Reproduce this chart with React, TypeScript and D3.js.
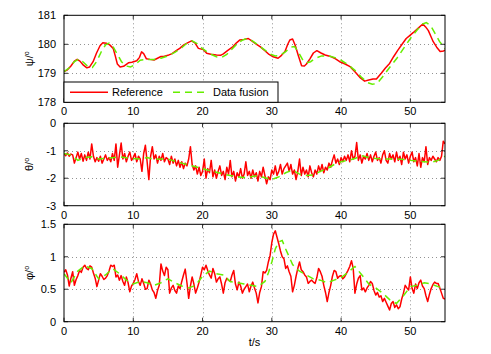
import React from 'react';
import * as d3 from 'd3';

// ---------- data ----------
const timeTicks = [0, 10, 20, 30, 40, 50];

const psiRefT = [0,0.5,1,1.5,1.9,2.3,2.8,3.3,3.7,4.2,4.7,5.2,5.6,6.1,6.6,7.1,7.4,7.7,8.1,8.6,9.3,9.8,10.5,10.9,11.2,11.5,11.9,12.4,13,13.5,14,14.4,15,15.6,16.2,16.7,17.3,17.9,18.4,18.9,19.4,20.1,20.6,21.2,22,22.6,23,23.6,24.4,24.9,25.4,26,26.6,27.2,27.8,28.3,29,29.6,30.2,30.9,31.4,31.9,32.3,32.6,33,33.4,33.8,34.3,34.7,35,35.5,36,36.5,37.1,37.7,38.6,39.2,39.8,40.5,41.3,42,42.7,43.4,44,44.6,45.1,45.8,46.4,47,47.6,48.2,48.8,49.4,49.9,50.4,51.1,51.8,52.2,52.6,53,53.3,53.8,54.3,54.8,55];
const psiRefV = [179.06,179.12,179.25,179.42,179.48,179.42,179.28,179.19,179.22,179.4,179.7,179.95,180.05,180.04,179.98,179.86,179.6,179.32,179.22,179.24,179.36,179.38,179.43,179.55,179.74,179.68,179.5,179.48,179.46,179.52,179.58,179.58,179.62,179.68,179.78,179.86,179.98,180.06,180.12,180.05,179.86,179.82,179.69,179.66,179.63,179.62,179.67,179.78,179.92,180.05,180.15,180.17,180.2,180.1,180,179.92,179.78,179.65,179.57,179.52,179.62,179.75,180,180.15,180.18,179.95,179.63,179.26,179.25,179.32,179.5,179.7,179.78,179.7,179.63,179.57,179.5,179.4,179.33,179.23,179.05,178.86,178.73,178.77,178.8,178.8,179,179.18,179.34,179.58,179.8,180,180.2,180.3,180.4,180.55,180.7,180.6,180.47,180.25,180.09,179.9,179.75,179.77,179.8];

const psiFusT = [0,0.8,1.5,2.2,2.8,3.5,4.1,4.7,5.4,6,6.5,7,7.6,8.3,9,9.6,10.3,11,12,13,14,15,16,17,17.8,18.5,19.2,20,21,22,22.7,23.5,24.3,25,25.8,26.5,27.2,28,29,29.8,30.5,31.2,32,32.7,33.3,33.9,34.5,35,35.6,36.3,37.2,38.2,39,40,41,42,43,43.8,44.5,45.2,46,47,48,49,50,51,51.8,52.3,52.9,53.5,54.2,55];
const psiFusV = [179.06,179.2,179.4,179.5,179.38,179.22,179.2,179.4,179.75,179.98,180.04,179.95,179.7,179.4,179.25,179.22,179.3,179.45,179.48,179.48,179.52,179.6,179.72,179.88,180.05,180.12,180.02,179.85,179.68,179.57,179.54,179.65,179.85,180.02,180.15,180.2,180.12,179.98,179.8,179.66,179.6,179.62,179.75,179.9,179.92,179.7,179.45,179.36,179.4,179.52,179.6,179.6,179.55,179.45,179.3,179.1,178.85,178.68,178.62,178.65,178.88,179.2,179.5,179.85,180.2,180.5,180.7,180.75,180.65,180.4,180.1,179.85];

// theta reference, sampled every 0.25 s from 0 to 55 s
const thetaRefV = [
  -1.10,-1.18,-1.08,-1.20, -1.12,-1.15,-1.45,-1.25, -1.05,-1.30,-1.10,-1.38, -1.15,-1.35,-1.05,-1.30,
  -0.75,-1.20,-1.40,-1.25, -1.38,-1.20,-1.45,-1.30, -1.15,-1.35,-1.25,-1.40, -1.10,-1.35,-0.75,-1.60,
  -1.15,-0.72,-1.30,-1.10, -1.40,-1.20,-1.05,-1.35, -1.25,-1.10,-1.40,-1.20, -1.30,-1.75,-1.10,-0.80,
  -1.40,-2.05,-1.20,-0.85, -1.30,-1.15,-1.45,-1.20, -1.35,-1.10,-1.40,-1.25, -1.30,-1.50,-1.20,-1.45,
  -1.30,-1.55,-1.35,-1.60, -1.40,-1.65,-1.45,-1.55, -1.30,-0.85,-1.50,-1.70, -1.55,-1.85,-1.60,-1.90,
  -1.75,-1.30,-2.00,-1.65, -1.80,-1.35,-1.95,-1.70, -2.00,-1.75,-1.55,-1.90, -1.75,-2.05,-1.60,-1.85,
  -1.35,-1.95,-1.75,-2.10, -1.80,-1.95,-1.65,-2.00, -1.85,-1.40,-1.90,-1.75, -2.00,-1.70,-1.95,-1.80,
  -2.10,-1.75,-1.95,-1.60, -1.90,-2.20,-1.95,-2.05, -1.70,-1.85,-1.55,-1.90, -1.75,-1.50,-1.85,-1.65,
  -1.55,-1.45,-1.75,-1.50, -1.85,-1.70,-2.05,-1.75, -1.30,-1.90,-1.60,-1.85, -1.70,-1.95,-1.55,-1.80,
  -1.95,-1.70,-1.85,-1.55, -1.75,-1.50,-1.80,-1.60, -1.70,-1.45,-1.60,-1.35, -1.15,-1.45,-1.30,-1.50,
  -1.25,-1.40,-1.20,-1.35, -1.15,-1.40,-1.00,-1.30, -1.20,-0.70,-1.35,-1.15, -1.45,-1.20,-1.30,-1.10,
  -1.35,-1.15,-1.40,-1.20, -1.05,-1.35,-1.25,-1.45, -1.15,-1.00,-1.35,-1.45, -1.10,-1.30,-1.15,-1.40,
  -1.05,-1.35,-1.20,-1.50, -1.05,-1.30,-1.15,-1.45, -1.20,-1.05,-1.40,-1.25, -1.55,-1.10,-1.60,-1.25,
  -1.40,-0.85,-1.50,-1.25, -1.35,-1.20,-1.30,-1.40, -1.25,-1.35,-1.20,-0.65, -0.75
];
// theta data fusion, every 1 s
const thetaFusV = [-1.10,-1.15,-1.35,-1.25,-1.22,-1.30,-1.28,-1.25,-1.22,-1.25,-1.28,-1.30,-1.25,-1.32,-1.30,-1.30,-1.38,-1.45,-1.52,-1.58,-1.65,-1.72,-1.78,-1.85,-1.90,-1.95,-1.97,-1.95,-1.90,-1.98,-2.05,-1.95,-1.80,-1.70,-1.85,-1.90,-1.88,-1.75,-1.65,-1.50,-1.40,-1.35,-1.28,-1.18,-1.25,-1.28,-1.30,-1.30,-1.30,-1.32,-1.35,-1.38,-1.40,-1.42,-1.35,-1.20];

// phi reference, sampled every 0.25 s
const phiRefV = [
  0.76,0.80,0.72,0.55, 0.67,0.77,0.56,0.65, 0.71,0.79,0.76,0.84, 0.87,0.82,0.80,0.86,
  0.84,0.75,0.67,0.54, 0.64,0.74,0.70,0.65, 0.67,0.71,0.78,0.87, 0.85,0.87,0.69,0.72,
  0.64,0.71,0.62,0.56, 0.69,0.60,0.46,0.55, 0.59,0.65,0.74,0.62, 0.56,0.66,0.59,0.50,
  0.51,0.64,0.58,0.49, 0.45,0.36,0.48,0.56, 0.89,0.78,0.71,0.84, 0.80,0.44,0.52,0.56,
  0.48,0.44,0.55,0.51, 0.62,0.72,0.81,0.60, 0.36,0.55,0.69,0.58, 0.44,0.52,0.61,0.72,
  0.84,0.80,0.87,0.79, 0.72,0.67,0.82,0.74, 0.61,0.66,0.69,0.58, 0.44,0.60,0.67,0.64,
  0.62,0.72,0.79,0.58, 0.49,0.61,0.55,0.44, 0.50,0.54,0.58,0.46, 0.55,0.61,0.52,0.44,
  0.29,0.45,0.54,0.77, 0.75,0.79,0.92,1.02, 1.22,1.35,1.40,1.30, 1.20,1.09,1.00,0.97,
  0.82,0.86,0.77,0.70, 0.46,0.56,0.70,0.82, 0.92,0.80,0.77,0.72, 0.69,0.59,0.62,0.64,
  0.61,0.59,0.68,0.82, 0.77,0.70,0.56,0.45, 0.31,0.45,0.56,0.70, 0.79,0.77,0.67,0.70,
  0.71,0.66,0.69,0.74, 0.79,0.85,0.94,0.82, 0.44,0.58,0.67,0.71, 0.49,0.52,0.46,0.52,
  0.56,0.62,0.59,0.48, 0.41,0.45,0.38,0.40, 0.31,0.36,0.30,0.24, 0.18,0.28,0.31,0.22,
  0.26,0.20,0.23,0.35, 0.44,0.56,0.52,0.49, 0.69,0.51,0.44,0.58, 0.51,0.60,0.64,0.55,
  0.51,0.40,0.31,0.42, 0.51,0.57,0.61,0.59, 0.59,0.52,0.44,0.36, 0.35
];
const phiFusT = [0,1,2,3,4,5,6,7,8,9,10,11,12,13,14,15,16,17,18,19,20,21,22,23,24,25,26,27,28,29,29.5,30,30.5,31,31.5,32,32.5,33,33.5,34,35,36,37,38,39,40,41,42,43,44,45,46,47,48,49,50,51,52,53,54,55];
const phiFusV = [0.74,0.60,0.78,0.86,0.82,0.66,0.72,0.82,0.74,0.64,0.58,0.62,0.60,0.56,0.60,0.66,0.60,0.55,0.52,0.56,0.70,0.78,0.74,0.72,0.62,0.60,0.58,0.56,0.54,0.62,0.75,0.92,1.12,1.23,1.25,1.12,1.00,0.88,0.82,0.78,0.72,0.66,0.64,0.60,0.64,0.68,0.76,0.85,0.72,0.58,0.52,0.44,0.34,0.28,0.40,0.54,0.56,0.60,0.58,0.54,0.52];

const legendLabels = ['Reference', 'Data fusion'];

// ---------- layout ----------
const W = 491, H = 354;
const X0 = 64, X1 = 445;
const RED = '#ff0000';
const GREEN = '#66ee00';
const FONT = 'Liberation Sans, Arial, Helvetica, sans-serif';

const x = d3.scaleLinear().domain([0, 55]).range([X0, X1]);

type Panel = {
  top: number; bottom: number; domain: [number, number]; ticks: number[];
  tickFmt: (v: number) => string; label: string;
  ref: [number, number][]; fus: [number, number][];
};

const zip = (t: number[], v: number[]) => t.map((tt, i) => [tt, v[i]] as [number, number]);
const stepped = (v: number[], dt: number) => v.map((vv, i) => [i * dt, vv] as [number, number]);

const panels: Panel[] = [
  { top: 15.3, bottom: 102.3, domain: [178, 181], ticks: [178, 179, 180, 181], tickFmt: d => String(d), label: 'ψ',
    ref: zip(psiRefT, psiRefV), fus: zip(psiFusT, psiFusV) },
  { top: 123.3, bottom: 205.7, domain: [-3, 0], ticks: [-3, -2, -1, 0], tickFmt: d => String(d), label: 'θ',
    ref: stepped(thetaRefV, 0.25), fus: stepped(thetaFusV, 1) },
  { top: 224.3, bottom: 321.7, domain: [0, 1.5], ticks: [0, 0.5, 1, 1.5], tickFmt: d => String(d), label: 'φ',
    ref: stepped(phiRefV, 0.25), fus: zip(phiFusT, phiFusV) },
];

function PanelView({ p, idx }: { p: Panel; idx: number }) {
  const y = d3.scaleLinear().domain(p.domain).range([p.bottom, p.top]);
  const line = d3.line<[number, number]>().x(d => x(d[0])).y(d => y(d[1]));
  const clipId = `clip${idx}`;
  const tl = 4;
  return (
    <g>
      <defs>
        <clipPath id={clipId}>
          <rect x={X0} y={p.top} width={X1 - X0} height={p.bottom - p.top} />
        </clipPath>
      </defs>
      <rect x={X0} y={p.top} width={X1 - X0} height={p.bottom - p.top} fill="#fff" />
      {/* grid */}
      {timeTicks.filter(t => t > 0).map(t => (
        <line key={'gx' + t} x1={Math.round(x(t)) + 0.5} x2={Math.round(x(t)) + 0.5} y1={p.top} y2={p.bottom}
          stroke="#777" strokeWidth={0.8} strokeDasharray="1,3" />
      ))}
      {p.ticks.slice(1, -1).map(v => (
        <line key={'gy' + v} x1={X0} x2={X1} y1={Math.round(y(v)) + 0.5} y2={Math.round(y(v)) + 0.5}
          stroke="#777" strokeWidth={0.8} strokeDasharray="1,3" />
      ))}
      {/* lines */}
      <g clipPath={`url(#${clipId})`}>
        <path d={line(p.ref) || ''} fill="none" stroke={RED} strokeWidth={1.5} strokeLinejoin="round" />
        <path d={line(p.fus) || ''} fill="none" stroke={GREEN} strokeWidth={1.5} strokeDasharray="7,5" />
      </g>
      {/* ticks */}
      {timeTicks.map(t => (
        <g key={'tx' + t}>
          <line x1={x(t)} x2={x(t)} y1={p.bottom} y2={p.bottom - tl} stroke="#000" strokeWidth={0.8} />
          <line x1={x(t)} x2={x(t)} y1={p.top} y2={p.top + tl} stroke="#000" strokeWidth={0.8} />
          <text x={x(t)} y={p.bottom + 13} textAnchor="middle" fontSize={11} fontFamily={FONT} fill="#000">{t}</text>
        </g>
      ))}
      {p.ticks.map(v => (
        <g key={'ty' + v}>
          <line x1={X0} x2={X0 + tl} y1={y(v)} y2={y(v)} stroke="#000" strokeWidth={0.8} />
          <line x1={X1} x2={X1 - tl} y1={y(v)} y2={y(v)} stroke="#000" strokeWidth={0.8} />
          <text x={X0 - 8} y={y(v) + 4} textAnchor="end" fontSize={11} fontFamily={FONT} fill="#000">{p.tickFmt(v)}</text>
        </g>
      ))}
      <rect x={X0} y={p.top} width={X1 - X0} height={p.bottom - p.top} fill="none" stroke="#000" strokeWidth={1} />
      <text transform={`translate(${33},${(p.top + p.bottom) / 2}) rotate(-90)`} textAnchor="middle"
        fontSize={11} fontFamily={FONT} fill="#000">
        {p.label}/<tspan fontSize={7} dy={-4}>o</tspan>
      </text>
    </g>
  );
}

export default function App() {
  const lp = panels[0];
  const ly0 = 82, ly1 = lp.bottom;
  const lyMid = (ly0 + ly1) / 2;
  return (
    <svg width={W} height={H} style={{ position: 'absolute', left: 0, top: 0 }} xmlns="http://www.w3.org/2000/svg">
      <rect x={0} y={0} width={W} height={H} fill="#fff" />
      {panels.map((p, i) => <PanelView key={i} p={p} idx={i} />)}
      {/* legend */}
      <g>
        <rect x={X0} y={ly0} width={278 - X0} height={ly1 - ly0} fill="#fff" stroke="#000" strokeWidth={1} />
        <line x1={70} x2={108} y1={lyMid} y2={lyMid} stroke={RED} strokeWidth={1.5} />
        <text x={112} y={lyMid + 4} fontSize={11} fontFamily={FONT} fill="#000">{legendLabels[0]}</text>
        <line x1={173} x2={208} y1={lyMid} y2={lyMid} stroke={GREEN} strokeWidth={1.5} strokeDasharray="7,5" />
        <text x={213} y={lyMid + 4} fontSize={11} fontFamily={FONT} fill="#000">{legendLabels[1]}</text>
      </g>
      <text x={(X0 + X1) / 2} y={346} textAnchor="middle" fontSize={11} fontFamily={FONT} fill="#000">t/s</text>
    </svg>
  );
}
